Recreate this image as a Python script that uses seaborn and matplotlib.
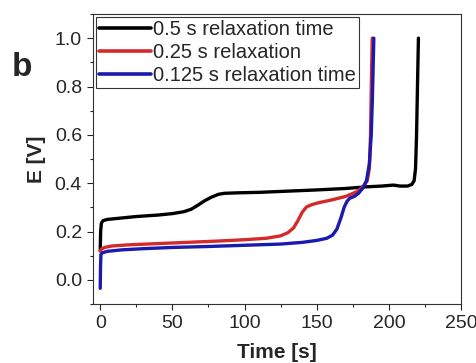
import numpy as np
import pandas as pd
import seaborn as sns
import matplotlib.pyplot as plt
from matplotlib.ticker import MultipleLocator

# curves
t_black = [0, 0.3, 0.8, 2, 5, 15, 25, 40, 50, 58, 63, 68, 72, 77, 82, 86, 95, 110, 130, 150, 170, 185, 195, 203, 208, 213, 216, 217.5, 218.5, 219.2, 220, 220.5]
e_black = [0.12, 0.2, 0.235, 0.245, 0.25, 0.256, 0.262, 0.268, 0.274, 0.282, 0.292, 0.31, 0.326, 0.342, 0.354, 0.358, 0.36, 0.362, 0.367, 0.372, 0.378, 0.385, 0.388, 0.392, 0.388, 0.388, 0.395, 0.41, 0.46, 0.6, 0.85, 1.0]
t_red = [0, 1, 3, 8, 20, 40, 60, 80, 100, 115, 125, 130, 134, 137, 140, 143, 147, 152, 160, 170, 178, 182, 185, 186.5, 187.3, 188, 188.5]
e_red = [0.12, 0.128, 0.134, 0.14, 0.145, 0.15, 0.155, 0.16, 0.166, 0.172, 0.182, 0.195, 0.215, 0.245, 0.28, 0.302, 0.312, 0.32, 0.33, 0.345, 0.365, 0.385, 0.41, 0.46, 0.6, 0.85, 1.0]
t_blue = [0, 0.2, 0.5, 1.5, 5, 15, 30, 50, 75, 100, 125, 140, 150, 157, 161, 164, 167, 169, 171, 173, 176, 179, 182, 184.5, 186.5, 187.8, 188.6, 189.2, 189.6]
e_blue = [-0.035, 0.05, 0.105, 0.112, 0.118, 0.124, 0.129, 0.134, 0.138, 0.143, 0.148, 0.155, 0.163, 0.172, 0.185, 0.21, 0.26, 0.3, 0.325, 0.338, 0.345, 0.358, 0.38, 0.41, 0.48, 0.6, 0.75, 0.9, 1.0]

labels = ["0.5 s relaxation time", "0.25 s relaxation", "0.125 s relaxation time"]
colors = ["#000000", "#d42a2a", "#1a1ab0"]

df = pd.concat([
    pd.DataFrame({"t": t_black, "E": e_black, "run": labels[0]}),
    pd.DataFrame({"t": t_red, "E": e_red, "run": labels[1]}),
    pd.DataFrame({"t": t_blue, "E": e_blue, "run": labels[2]}),
])

sns.set_style("ticks")
plt.rcParams["font.family"] = ["Liberation Sans", "DejaVu Sans"]

fig = plt.figure(figsize=(4.77, 3.63), dpi=100)
ax = fig.add_axes([93 / 477, 1 - 304 / 363, 368 / 477, 290 / 363])

sns.lineplot(data=df, x="t", y="E", hue="run", palette=colors, hue_order=labels,
             sort=False, estimator=None, linewidth=2.4, ax=ax)

ax.set_xlim(-5, 250)
ax.set_ylim(-0.1, 1.1)
ax.xaxis.set_major_locator(MultipleLocator(50))
ax.xaxis.set_minor_locator(MultipleLocator(25))
ax.yaxis.set_minor_locator(MultipleLocator(0.1))
ax.set_yticks([0.0, 0.2, 0.4, 0.6, 0.8, 1.0])
ax.set_yticklabels(["0.0", "0.2", "0.4", "0.6", "0.8", "1.0"])
ax.tick_params(which="major", length=4, width=0.8, labelsize=14, direction="out", pad=4)
ax.tick_params(which="minor", length=2.5, width=0.8, direction="out")
for s in ax.spines.values():
    s.set_linewidth(0.8)
    s.set_color("#333333")

ax.set_xlabel("Time [s]", fontsize=15, fontweight="bold", labelpad=8)
ax.set_ylabel("E [V]", fontsize=15, fontweight="bold", labelpad=6)

leg = ax.legend(loc="upper left", fontsize=14.5, frameon=True, fancybox=False,
                handlelength=2.6, handletextpad=0.1, borderpad=0.15, labelspacing=0.2,
                borderaxespad=0.15)
leg.get_frame().set_edgecolor("black")
leg.get_frame().set_linewidth(0.8)
for h in leg.get_lines():
    h.set_linewidth(2.6)

fig.text(12 / 477, 1 - 68 / 363, "b", fontsize=24, fontweight="bold", ha="left", va="center")

fig.savefig("out.png", dpi=100)
